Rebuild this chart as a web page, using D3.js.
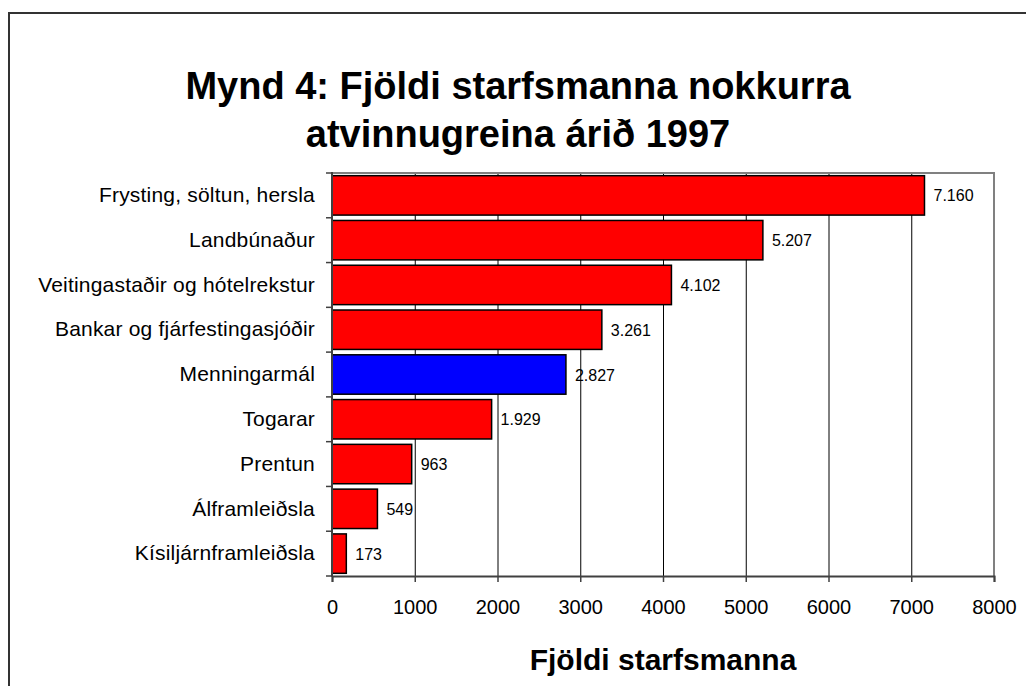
<!DOCTYPE html>
<html>
<head>
<meta charset="utf-8">
<script src="https://cdn.jsdelivr.net/npm/d3@7"></script>
<style>
  html, body { margin: 0; padding: 0; background: #fff; }
  svg { display: block; font-family: Arial, "Liberation Sans", sans-serif; }
</style>
</head>
<body>
<div id="chart"></div>
<script>
// Gögn ///////////////////////////////////////////////////////////////
const categories = [
  'Frysting, söltun, hersla',
  'Landbúnaður',
  'Veitingastaðir og hótelrekstur',
  'Bankar og fjárfestingasjóðir',
  'Menningarmál',
  'Togarar',
  'Prentun',
  'Álframleiðsla',
  'Kísiljárnframleiðsla'
];
const values = [7160, 5207, 4102, 3261, 2827, 1929, 963, 549, 173];
const highlighted = ['Menningarmál'];
const xTicks = [0, 1000, 2000, 3000, 4000, 5000, 6000, 7000, 8000];
const titleLines = ['Mynd 4: Fjöldi starfsmanna nokkurra', 'atvinnugreina árið 1997'];
const xTitle = 'Fjöldi starfsmanna';

const width = 1026, height = 686;
const margin = { top: 173, right: 32, bottom: 110, left: 332 };

const is = d3.formatLocale({ decimal: ',', thousands: '.', grouping: [3], currency: ['', ''] });
const fmt = is.format(',d');

const svg = d3.select('#chart').append('svg')
  .attr('width', width)
  .attr('height', height)
  .attr('viewBox', [0, 0, width, height]);

// ramminn utan um myndina
svg.append('rect')
  .attr('x', 9).attr('y', 13)
  .attr('width', width + 20).attr('height', height + 20)
  .attr('fill', '#fff')
  .attr('stroke', '#333')
  .attr('stroke-width', 2);

// Titill ////////////////////////////////////////////////////////////
svg.append('g')
  .selectAll('text')
  .data(titleLines)
  .join('text')
  .attr('x', 518)
  .attr('y', (d, i) => 99 + i * 48)
  .attr('text-anchor', 'middle')
  .attr('font-size', 38)
  .attr('font-weight', 'bold')
  .attr('fill', '#000')
  .text(d => d);

// Kvarðar ///////////////////////////////////////////////////////////
const x = d3.scaleLinear()
  .domain([0, 8000])
  .range([margin.left, width - margin.right]);

const y = d3.scaleBand()
  .domain(categories)
  .range([margin.top, height - margin.bottom])
  .paddingInner(0.12)
  .paddingOuter(0.06);

const plotTop = margin.top, plotBottom = height - margin.bottom;

// lóðréttar hnitalínur
svg.append('g')
  .selectAll('line')
  .data(xTicks.slice(1, -1))
  .join('line')
  .attr('x1', d => x(d) + 0.5).attr('x2', d => x(d) + 0.5)
  .attr('y1', plotTop).attr('y2', plotBottom)
  .attr('stroke', '#000')
  .attr('stroke-width', 1);

// rammi teiknisvæðis (efri og hægri brún)
svg.append('path')
  .attr('d', `M${x(0)},${plotTop}H${x(8000)}V${plotBottom}`)
  .attr('fill', 'none')
  .attr('stroke', '#808080')
  .attr('stroke-width', 2);

// Súlur /////////////////////////////////////////////////////////////
svg.append('g')
  .selectAll('rect')
  .data(categories)
  .join('rect')
  .attr('x', x(0))
  .attr('y', d => y(d))
  .attr('width', (d, i) => x(values[i]) - x(0))
  .attr('height', y.bandwidth())
  .attr('fill', d => highlighted.includes(d) ? '#0000ff' : '#ff0000')
  .attr('stroke', '#000')
  .attr('stroke-width', 1.5);

// gildi við enda súlna
svg.append('g')
  .selectAll('text')
  .data(categories)
  .join('text')
  .attr('x', (d, i) => x(values[i]) + 9)
  .attr('y', d => y(d) + y.bandwidth() / 2 + 6)
  .attr('font-size', 16)
  .attr('fill', '#000')
  .text((d, i) => fmt(values[i]));

// Ásar //////////////////////////////////////////////////////////////
const yAxis = svg.append('g')
  .attr('transform', `translate(${x(0)},0)`)
  .call(d3.axisLeft(y).tickSize(0).tickPadding(17))
  .call(g => g.select('.domain').remove());

yAxis.selectAll('text')
  .attr('font-size', 21)
  .attr('letter-spacing', 0.2)
  .attr('fill', '#000')
  .attr('font-family', 'Arial, "Liberation Sans", sans-serif');

// flokkamerki á milli súlna
const bandEdges = categories.map(c => y(c) - y.step() * y.paddingInner() / 2).concat([plotBottom]);
svg.append('g')
  .selectAll('line')
  .data(bandEdges)
  .join('line')
  .attr('x1', x(0) - 6).attr('x2', x(0))
  .attr('y1', d => d).attr('y2', d => d)
  .attr('stroke', '#404040')
  .attr('stroke-width', 1.5);

svg.append('line')
  .attr('x1', x(0)).attr('x2', x(0))
  .attr('y1', plotTop - 1).attr('y2', plotBottom + 1)
  .attr('stroke', '#404040')
  .attr('stroke-width', 2);

const xAxis = svg.append('g')
  .attr('transform', `translate(0,${plotBottom})`)
  .call(d3.axisBottom(x).tickValues(xTicks).tickFormat(d3.format('d')).tickSize(6).tickPadding(18));

xAxis.select('.domain').attr('stroke', '#404040').attr('stroke-width', 2);
xAxis.selectAll('.tick line').attr('stroke', '#404040').attr('stroke-width', 1.5);
xAxis.selectAll('text')
  .attr('font-size', 20)
  .attr('fill', '#000')
  .attr('font-family', 'Arial, "Liberation Sans", sans-serif');

// heiti x-áss
svg.append('text')
  .attr('x', (x(0) + x(8000)) / 2)
  .attr('y', 670)
  .attr('text-anchor', 'middle')
  .attr('font-size', 30)
  .attr('font-weight', 'bold')
  .attr('fill', '#000')
  .text(xTitle);
</script>
</body>
</html>
